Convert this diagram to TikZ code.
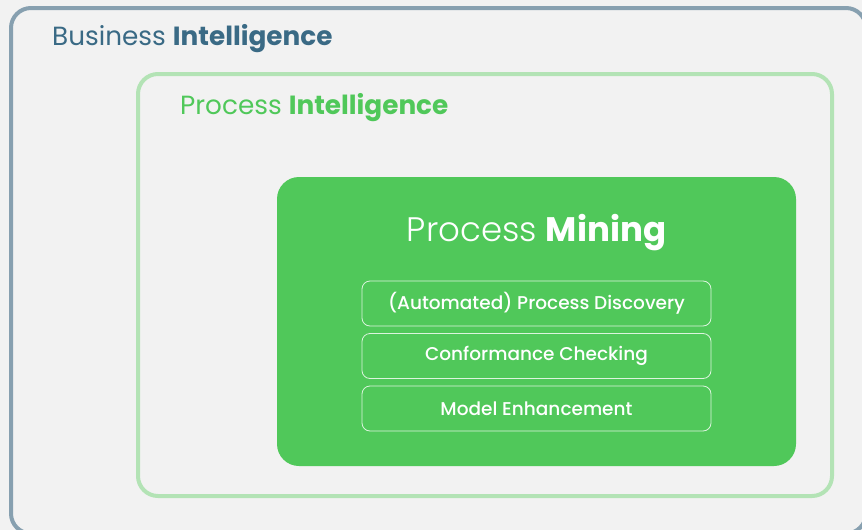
\documentclass[tikz,border=0pt]{standalone}
\usepackage{fontspec}
\setmainfont{Poppins}
\newfontfamily\plight{Poppins Light}
\newfontfamily\pmed{Poppins Medium}
\definecolor{bg}{HTML}{F2F2F2}
\definecolor{biline}{HTML}{87A0B0}
\definecolor{bitext}{HTML}{3A6A85}
\definecolor{piline}{HTML}{B3E3B5}
\definecolor{pmgreen}{HTML}{50C85A}
\begin{document}
\begin{tikzpicture}[x=1pt,y=-1pt,
  frame/.style={line width=4pt,rounded corners=20pt},
  title/.style={anchor=base west,inner sep=0pt,font=\fontsize{26.3}{30}\selectfont},
  sub/.style={draw=white!80!pmgreen,line width=0.8pt,rounded corners=8pt,minimum width=349pt,minimum height=45pt,text=white,font=\pmed\fontsize{18.5}{22}\selectfont,inner sep=0pt}
  ]
\useasboundingbox (0,0) rectangle (862,530);
\fill[bg] (0,0) rectangle (862,530);
\draw[frame,draw=biline] (11,8) rectangle (866,533.5);
\draw[frame,draw=piline] (138,74) rectangle (832,496);
\fill[pmgreen,rounded corners=22pt] (277,177) rectangle (796,466);
\node[title,text=bitext] (bi) at (52,45) {Business \textbf{Intelligence}};
\node[title,text=pmgreen] (pi) at (180,114) {Process \textbf{Intelligence}};
\node[anchor=base,inner sep=0pt,text=white,font=\fontsize{34}{40}\selectfont] (pm) at (536.5,241) {{\plight Process} \textbf{Mining}};
\node[sub] (d) at (536.5,303.5) {(Automated) Process Discovery};
\node[sub] (c) at (536.5,356) {Conformance Checking};
\node[sub] (e) at (536.5,408.5) {Model Enhancement};
\end{tikzpicture}
\end{document}
